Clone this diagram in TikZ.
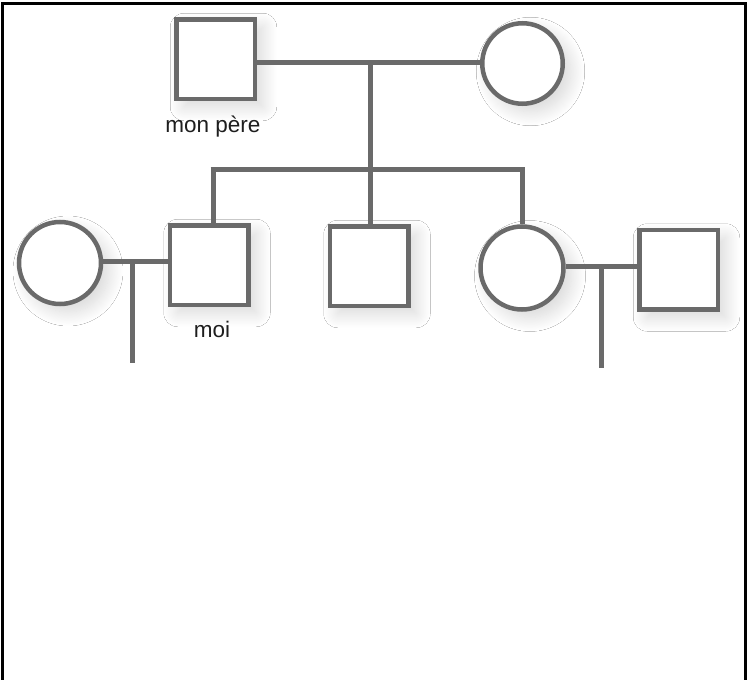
\documentclass[tikz,border=0pt]{standalone}
\usepackage{fontspec}
\setmainfont{Liberation Sans}
\usetikzlibrary{shadows.blur}
\definecolor{linegray}{HTML}{6A6A6A}
\definecolor{textdark}{HTML}{1E1E1E}
\begin{document}
\begin{tikzpicture}[x=1pt,y=-1pt,
  shp/.style={draw=linegray, line width=4.5pt, fill=white, inner sep=0pt,
    blur shadow={shadow xshift=8pt, shadow yshift=-8pt, shadow blur radius=14pt, shadow blur steps=20, shadow opacity=16}},
  male/.style={shp, rectangle, minimum width=78.5pt, minimum height=79.5pt},
  female/.style={shp, circle, minimum size=80.5pt},
  conn/.style={draw=linegray, line width=5pt},
  lbl/.style={font=\fontsize{22.5}{27}\selectfont, text=textdark, anchor=base, inner sep=0pt},
  frame/.style={draw=black, line width=3pt}
]
\useasboundingbox (0,0) rectangle (750,680);
\fill[white] (0,0) rectangle (750,680);

% people
\node[male]   (father) at (215.5,59) {};
\node[female] (mother) at (522.5,63.5) {};
\node[female, minimum size=82pt] (wife) at (60,263) {};
\node[male]   (moi)    at (209,265) {};
\node[male]   (middle) at (369,266) {};
\node[female, minimum size=83pt] (sister) at (522,268) {};
\node[male]   (right)  at (678.5,269.5) {};

% junction coordinates
\coordinate (m1) at (370,62);
\coordinate (sL) at (213,169);
\coordinate (sM) at (370,169);
\coordinate (sR) at (522,169);
\coordinate (c1) at (132,261);
\coordinate (c1b) at (132,363);
\coordinate (c2) at (601,266);
\coordinate (c2b) at (601,368);

% connectors
\draw[conn] (father.east |- m1) -- (mother.west |- m1);
\draw[conn] (m1) -- (sM);
\draw[conn] ([xshift=-2.5pt]sL) -- ([xshift=2.5pt]sR);
\draw[conn] (sL) -- (sL |- moi.north);
\draw[conn] (sM) -- (sM |- middle.north);
\draw[conn] (sR) -- (sister.north);
\draw[conn] (wife.east |- c1) -- (moi.west |- c1);
\draw[conn] (c1) -- (c1b);
\draw[conn] (sister.east |- c2) -- (right.west |- c2);
\draw[conn] (c2) -- (c2b);

% labels
\node[lbl] (lpere) at (213,132) {mon père};
\node[lbl] (lmoi)  at (212,337) {moi};

% frame
\draw[frame] (2,682) -- (2,3) -- (745,3) -- (745,682);
\end{tikzpicture}
\end{document}
